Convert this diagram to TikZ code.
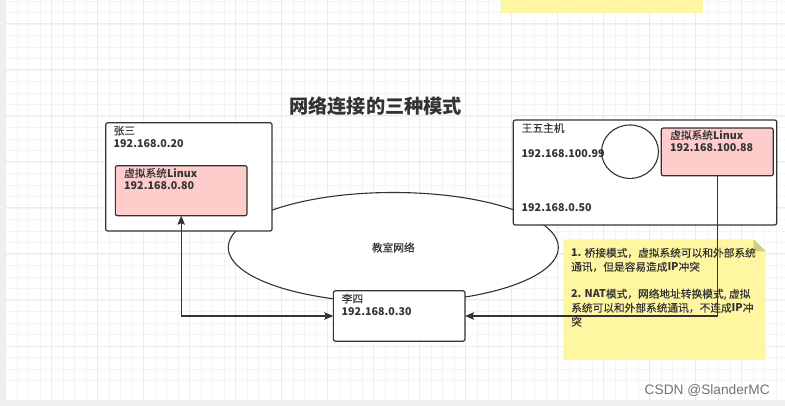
\documentclass[tikz,border=0pt]{standalone}
\usepackage{fontspec}
\setmainfont[FakeBold=0.25,BoldFeatures={FakeBold=0}]{Noto Sans CJK SC}
\newfontfamily\markfont{Liberation Sans}
\usetikzlibrary{arrows.meta,shapes.geometric}
\definecolor{linecol}{HTML}{333333}
\definecolor{vmfill}{HTML}{FFCCCC}
\definecolor{notefill}{HTML}{FFF6A1}
\definecolor{foldfill}{HTML}{CFCD7E}
\definecolor{gridcol}{HTML}{F3F5F3}
\definecolor{gridmajor}{HTML}{EAECEA}
\definecolor{stripcol}{HTML}{EEF0EE}
\tikzset{
  hostbox/.style={draw=linecol,line width=1.2pt,fill=white,rounded corners=2pt,inner sep=0pt,outer sep=0pt},
  vmbox/.style={hostbox,fill=vmfill},
  oval/.style={ellipse,draw=linecol,line width=1.1pt,fill=white,inner sep=0pt,outer sep=0pt},
  boxtext/.style={anchor=west,inner sep=0pt,text=linecol,font=\fontsize{10.7}{13}\selectfont},
  link/.style={draw=linecol,line width=1.1pt,-{Stealth[length=9pt,width=7.5pt,inset=1.5pt]}},
}
\begin{document}
\begin{tikzpicture}[x=1pt,y=-1pt]
  \useasboundingbox (0,0) rectangle (785,406);
  \fill[white] (0,0) rectangle (785,406);
  % background grid
  \foreach \x in {0,...,16}
    \foreach \k in {0,...,3}
      \draw[gridcol,line width=.8pt] (5.7+46*\x+11.5*\k,0) -- (5.7+46*\x+11.5*\k,406);
  \foreach \y in {0,...,8}
    \foreach \k in {0,...,3}
      \draw[gridcol,line width=.8pt] (0,-22+46*\y+11.6*\k) -- (785,-22+46*\y+11.6*\k);
  \foreach \x in {0,...,16}
    \draw[gridmajor,line width=1pt] (5.7+46*\x,0) -- (5.7+46*\x,406);
  \foreach \y in {1,...,8}
    \draw[gridmajor,line width=1pt] (0,-22+46*\y) -- (785,-22+46*\y);
  \fill[stripcol] (0,0) rectangle (5,406);
  \fill[stripcol] (0,400) rectangle (785,406);

  \node[boxtext,font=\fontsize{19.2}{19}\selectfont\bfseries] (title) at (289,106) {网络连接的三种模式};

  \fill[notefill] (501,0) rectangle (703,13);

  \node[oval,minimum width=330,minimum height=110,font=\fontsize{10.7}{13}\selectfont,text=linecol] (classnet) at (393.3,247.5) {教室网络};

  \node[hostbox,minimum width=166.3,minimum height=108.3] (zhangsan) at (188.9,176.9) {};
  \node[vmbox,minimum width=131.7,minimum height=50] (zhangvm) at (181.2,190.7) {};
  \node[hostbox,minimum width=131.7,minimum height=50.3] (lisi) at (399.2,316) {};
  \node[hostbox,minimum width=263.4,minimum height=105] (wangwu) at (645,172.5) {};
  \node[oval,minimum width=57,minimum height=53.4] (wangport) at (630,151.7) {};
  \node[vmbox,minimum width=112,minimum height=47.7] (wangvm) at (717.3,151.9) {};

  \node[boxtext] (zhangname) at (113.5,130.7) {张三};
  \node[boxtext] (zhangip) at (113.5,143.4) {\textbf{192.168.0.20}};
  \node[boxtext] (zhangvmname) at (124,173) {虚拟系统\textbf{Linux}};
  \node[boxtext] (zhangvmip) at (124,186) {\textbf{192.168.0.80}};
  \node[boxtext] (lisiname) at (341.5,298.5) {李四};
  \node[boxtext] (lisiip) at (341.5,311.3) {\textbf{192.168.0.30}};
  \node[boxtext] (wangname) at (521.5,128) {王五主机};
  \node[boxtext] (wangip) at (521.5,154) {\textbf{192.168.100.99}};
  \node[boxtext] (wangiptwo) at (521.5,208) {\textbf{192.168.0.50}};
  \node[boxtext] (wangvmname) at (670,135) {虚拟系统\textbf{Linux}};
  \node[boxtext] (wangvmip) at (670,148) {\textbf{192.168.100.88}};

  % sticky note
  \fill[notefill] (563.3,239.3) -- (753.7,239.3) -- (765.7,251.3) -- (765.7,360) -- (563.3,360) -- cycle;
  \fill[foldfill] (753.7,239.3) -- (765.7,251.3) -- (753.7,251.3) -- cycle;
  \node[boxtext,anchor=north west,align=left,font=\fontsize{10.7}{14}\selectfont] (notetext) at (571,247.6)
    {\textbf{1.} 桥接模式，虚拟系统可以和外部系统\\
     通讯，但是容易造成\textbf{IP}冲突\\[13pt]
     \textbf{2. NAT}模式，网络地址转换模式, 虚拟\\
     系统可以和外部系统通讯，不连成\textbf{IP}冲\\
     突};

  \draw[link,{Stealth[length=9pt,width=7.5pt,inset=1.5pt]}-{Stealth[length=9pt,width=7.5pt,inset=1.5pt]}] (lisi.west) -| (zhangvm.south);
  \draw[link] (wangvm.south) |- (lisi.east);

  \node[anchor=east,inner sep=0pt,text=black!55,font=\markfont\fontsize{13.7}{14}\selectfont] (watermark) at (770,390.7) {CSDN @SlanderMC};
\end{tikzpicture}
\end{document}
